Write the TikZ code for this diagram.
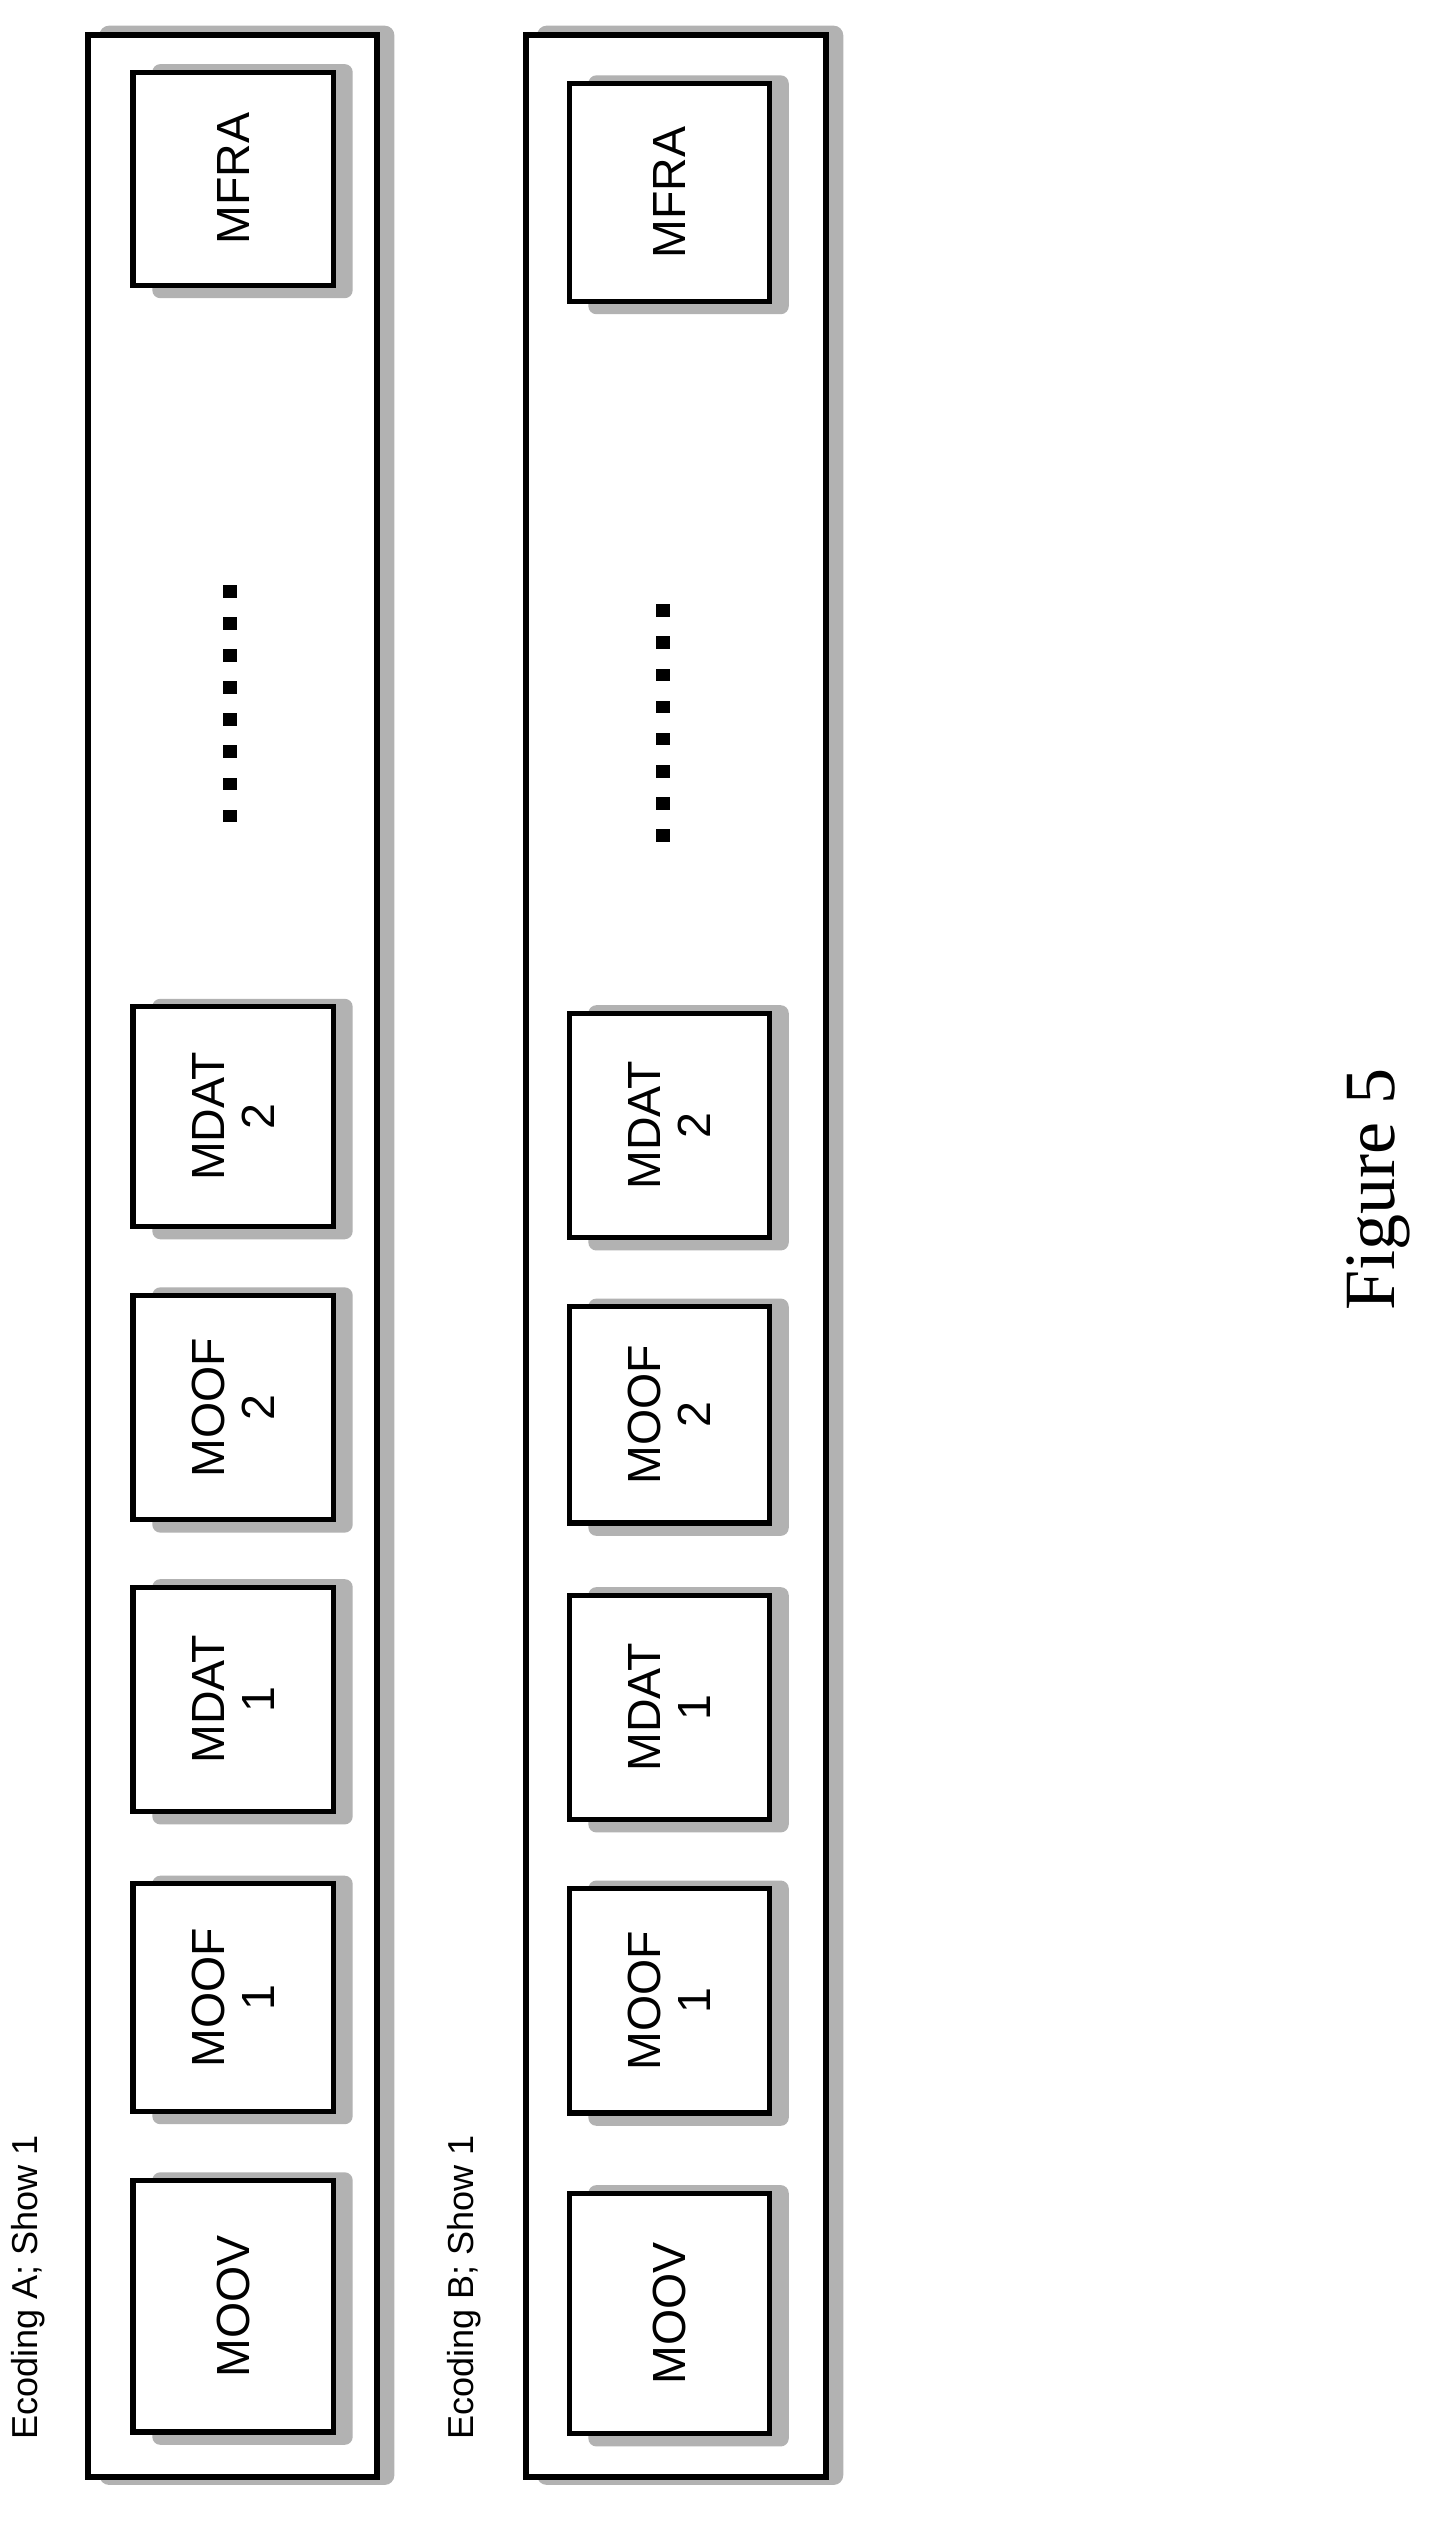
\documentclass[tikz,border=0pt]{standalone}
\usepackage{fontspec}
\setmainfont{Liberation Serif}
\newfontfamily\boxfont{Liberation Sans}
\begin{document}
\begin{tikzpicture}[x=1pt,y=-1pt,
  outer/.style={draw=black,line width=3.8pt,fill=white},
  inner/.style={draw=black,line width=3.2pt,fill=white},
  shad/.style={fill=black!30},
  lbl/.style={font=\boxfont\fontsize{29}{31}\selectfont,rotate=90,align=center,inner sep=0pt},
  captext/.style={font=\boxfont\fontsize{22.5}{24}\selectfont,rotate=90,anchor=south west,inner sep=0pt},
  dot/.style={fill=black}]
\useasboundingbox (0,0) rectangle (905,1580);
% shadows of outer boxes
\fill[shad,rounded corners=6pt] (62,16) rectangle (246,1550);
\fill[shad,rounded corners=6pt] (335,16) rectangle (526,1550);
\draw[outer] (55,22) rectangle (235,1545);
\draw[outer] (328,22) rectangle (515,1545);
\node[captext] (capA) at (28,1522) {Ecoding A; Show 1};
\node[captext] (capB) at (300,1522) {Ecoding B; Show 1};
% boxes
\foreach \nm/\xa/\xb/\ya/\yb/\t in {
 amoov/83/208/1360/1517/MOOV, amoof1/83/208/1175/1317/{MOOF\\1}, amdat1/83/208/990/1130/{MDAT\\1},
 amoof2/83/208/808/948/{MOOF\\2}, amdat2/83/208/628/765/{MDAT\\2}, amfra/83/208/45/178/MFRA,
 bmoov/355/480/1368/1518/MOOV, bmoof1/355/480/1178/1318/{MOOF\\1}, bmdat1/355/480/995/1135/{MDAT\\1},
 bmoof2/355/480/815/950/{MOOF\\2}, bmdat2/355/480/632/772/{MDAT\\2}, bmfra/355/480/52/188/MFRA}{
  \fill[shad,rounded corners=5pt] (\xa+12,\ya-5) rectangle (\xb+12,\yb+8);
  \draw[inner] (\xa,\ya) rectangle (\xb,\yb);
  \node[lbl] (\nm) at ({(\xa+\xb)/2},{(\ya+\yb)/2}) {\t};
}
\foreach \i in {0,...,7}{
  \fill[dot] (139,{365+\i*20}) rectangle (148,{373+\i*20});
  \fill[dot] (409,{377+\i*20}) rectangle (418,{385+\i*20});
}
\node[rotate=90,font=\fontsize{45}{48}\selectfont,inner sep=0pt] (fig) at (860,742) {Figure 5};
\end{tikzpicture}
\end{document}
